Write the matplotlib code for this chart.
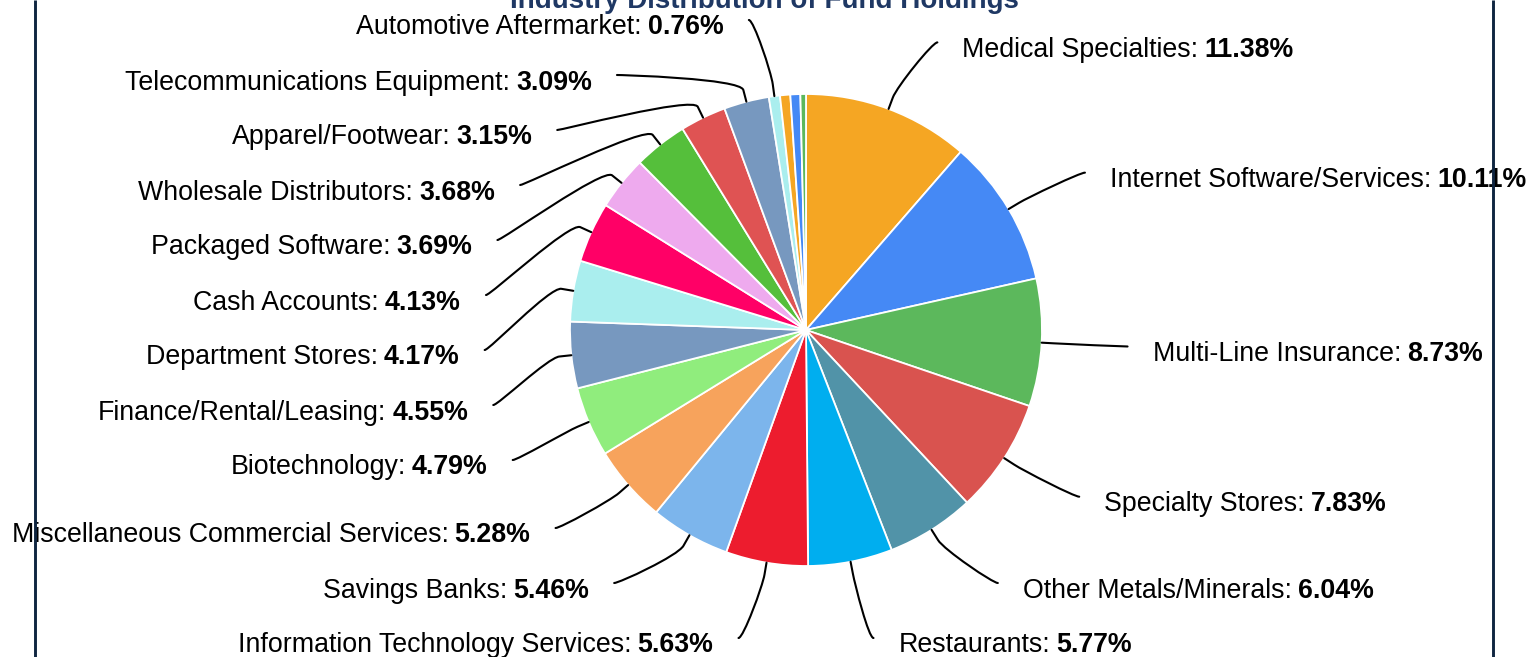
import numpy as np
import matplotlib.pyplot as plt
from matplotlib.path import Path
from matplotlib.patches import PathPatch

plt.rcParams['font.family'] = ['Liberation Sans', 'DejaVu Sans']

industries = ["Medical Specialties", "Internet Software/Services", "Multi-Line Insurance",
              "Specialty Stores", "Other Metals/Minerals", "Restaurants",
              "Information Technology Services", "Savings Banks",
              "Miscellaneous Commercial Services", "Biotechnology",
              "Finance/Rental/Leasing", "Department Stores", "Cash Accounts",
              "Packaged Software", "Wholesale Distributors", "Apparel/Footwear",
              "Telecommunications Equipment", "Automotive Aftermarket"]
weights = [11.38, 10.11, 8.73, 7.83, 6.04, 5.77, 5.63, 5.46, 5.28, 4.79,
           4.55, 4.17, 4.13, 3.69, 3.68, 3.15, 3.09, 0.76]
# tiny holdings at the end, no room left for their labels
small_weights = [0.70, 0.68, 0.38]

colors = ["#F5A623", "#4589F5", "#5CB85C", "#D9534F", "#5193A8", "#00AEEF",
          "#ED1C2E", "#7CB5EC", "#F7A35C", "#90ED7D", "#7798BF", "#AAEEEE",
          "#FF0066", "#EEAAEE", "#55BF3B", "#DF5353", "#7798BF", "#AAEEEE",
          "#F5A623", "#4589F5", "#5CB85C"]

title = "Industry Distribution of Fund Holdings"


def spread(targets, gap, lo, hi):
    # push overlapping labels apart, groups centred on their targets
    order = list(np.argsort(targets))
    groups = [[i] for i in order]
    while True:
        starts = []
        for g in groups:
            m = np.mean([targets[i] for i in g])
            s = m - (len(g) - 1) * gap / 2
            s = min(max(s, lo), hi - (len(g) - 1) * gap)
            starts.append(s)
        merged = False
        for k in range(len(groups) - 1):
            if starts[k] + len(groups[k]) * gap > starts[k + 1] + 1e-9:
                groups[k] = groups[k] + groups[k + 1]
                del groups[k + 1]
                merged = True
                break
        if not merged:
            break
    pos = {}
    for g, s in zip(groups, starts):
        for j, i in enumerate(g):
            pos[i] = s + j * gap
    return pos


fig = plt.figure(figsize=(15.3, 6.57), dpi=100)
ax = fig.add_axes([0, 0, 1, 1])

cx, cy, r = 806, 330, 236
wedges, _ = ax.pie(weights + small_weights, colors=colors, startangle=270,
                   counterclock=True, radius=r, center=(cx, cy),
                   wedgeprops=dict(edgecolor='white', linewidth=1.3))
ax.set_xlim(0, 1530)
ax.set_ylim(657, 0)
ax.set_aspect('auto')
ax.axis('off')

mids = [np.deg2rad((w.theta1 + w.theta2) / 2) for w in wedges[:len(weights)]]
nat_y = [cy + 307 * np.sin(t) for t in mids]

ypos = {}
for side in (-1, 1):
    idx = [i for i, t in enumerate(mids) if np.sign(np.cos(t)) == side]
    res = spread([nat_y[i] for i in idx], 55, 20, 638)
    for k, i in enumerate(idx):
        ypos[i] = res[k]

renderer = fig.canvas.get_renderer()
fs = 19.3
space = 6

for i, (name, val) in enumerate(zip(industries, weights)):
    t = mids[i]
    side = 1 if np.cos(t) > 0 else -1
    ly = ypos[i]
    dx = 322 * np.sqrt(max(0.0, 1 - ((ly - cy) / 315) ** 2))
    lx = cx + side * dx
    tx, ty = cx + r * np.cos(t), cy + r * np.sin(t)
    bx, by = cx + (r + 12) * np.cos(t), cy + (r + 12) * np.sin(t)
    verts = [(lx, ly), (lx - side * 5, ly), (2 * bx - tx, 2 * by - ty), (bx, by), (tx, ty)]
    codes = [Path.MOVETO, Path.CURVE4, Path.CURVE4, Path.CURVE4, Path.LINETO]
    ax.add_patch(PathPatch(Path(verts, codes), fill=False, lw=1.5, ec='black',
                           capstyle='round', zorder=1))

    base = ly + 14.5
    value = f"{val:.2f}%"
    if side > 0:
        x0 = lx + 25
        t1 = ax.text(x0, base, name + ":", ha='left', va='baseline', fontsize=fs)
        w1 = t1.get_window_extent(renderer).width
        ax.text(x0 + w1 + space, base, value, ha='left', va='baseline',
                fontsize=fs, fontweight='bold')
    else:
        x1 = lx - 25
        t2 = ax.text(x1, base, value, ha='right', va='baseline',
                     fontsize=fs, fontweight='bold')
        w2 = t2.get_window_extent(renderer).width
        ax.text(x1 - w2 - space, base, name + ":", ha='right', va='baseline', fontsize=fs)

ax.text(764.5, 8, title, ha='center', va='baseline', fontsize=20,
        fontweight='bold', color='#1F3864')

# container border
for x in (35.5, 1493.5):
    ax.plot([x, x], [0, 657], color='#0F2540', lw=2.1, zorder=10,
            solid_capstyle='butt')

fig.savefig('out.png', dpi=100, facecolor='white')
